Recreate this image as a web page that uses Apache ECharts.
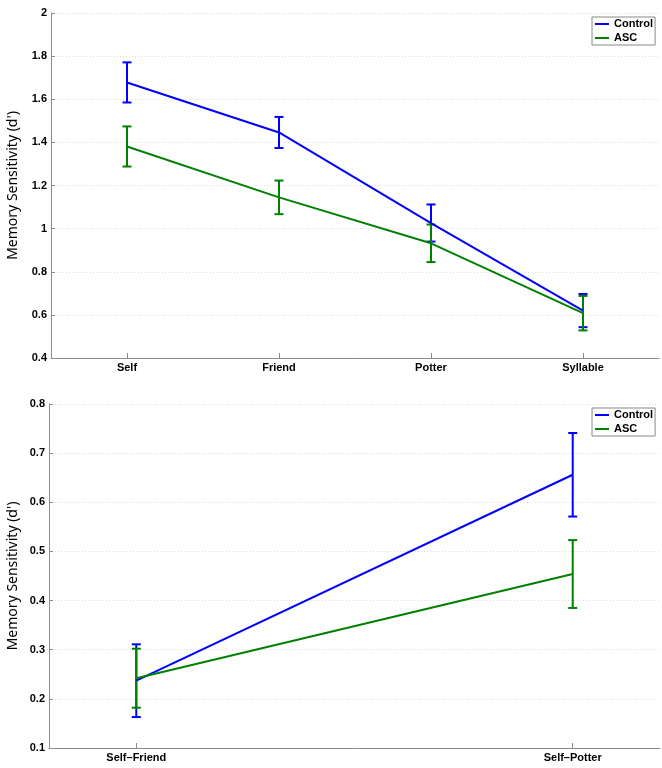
<!DOCTYPE html>
<html><head><meta charset="utf-8">
<script src="https://cdn.jsdelivr.net/npm/echarts@6/dist/echarts.min.js"></script>
<style>html,body{margin:0;padding:0;background:#fff}#c{width:662px;height:768px}</style>
</head><body><div id="c"></div>
<script>
// ---- data ----
const topCategories = ['Self', 'Friend', 'Potter', 'Syllable'];
const topControlMean = [1.678, 1.446, 1.026, 0.620];
const topControlErr  = [0.093, 0.072, 0.086, 0.077];
const topAscMean     = [1.381, 1.145, 0.932, 0.608];
const topAscErr      = [0.093, 0.078, 0.087, 0.080];

const bottomCategories = ['Self–Friend', 'Self–Potter'];
const bottomControlMean = [0.237, 0.656];
const bottomControlErr  = [0.074, 0.085];
const bottomAscMean     = [0.242, 0.454];
const bottomAscErr      = [0.060, 0.069];

const seriesNames = ['Control', 'ASC'];
const yAxisTitle = "Memory Sensitivity (d')";

// ---- style ----
const BLUE = '#0000ff', GREEN = '#008000';
const AXIS = '#8c8c8c';
const tickFont = {fontFamily: 'Liberation Sans, Arial, sans-serif', fontWeight: 'bold', fontSize: 11, color: '#000'};

function errData(xs, mean, err) {
  return mean.map((m, i) => [xs[i], m - err[i], m + err[i]]);
}
function errorBars(color, data, idx) {
  return {
    type: 'custom', name: 'eb', xAxisIndex: idx, yAxisIndex: idx,
    silent: true, itemStyle: {color},
    encode: {x: 0, y: [1, 2]},
    renderItem(params, api) {
      const x = api.value(0), lo = api.value(1), hi = api.value(2);
      const a = api.coord([x, lo]), b = api.coord([x, hi]);
      const hw = 4.5;
      const style = {stroke: color, lineWidth: 2, fill: null};
      return {type: 'group', children: [
        {type: 'line', shape: {x1: a[0], y1: a[1], x2: b[0], y2: b[1]}, style},
        {type: 'line', shape: {x1: a[0] - hw, y1: a[1], x2: a[0] + hw, y2: a[1]}, style},
        {type: 'line', shape: {x1: b[0] - hw, y1: b[1], x2: b[0] + hw, y2: b[1]}, style}
      ]};
    },
    data
  };
}
function lineSeries(name, color, data, idx) {
  return {type: 'line', name, xAxisIndex: idx, yAxisIndex: idx, data,
    symbol: 'none', lineStyle: {color, width: 2}, itemStyle: {color}, color};
}
function legendAt(top) {
  return {left: 592, top, orient: 'vertical', data: seriesNames,
    borderColor: '#888', borderWidth: 1, padding: [1, 2, 1, 3], itemGap: 2,
    icon: 'rect', itemWidth: 14, itemHeight: 2,
    textStyle: Object.assign({}, tickFont, {lineHeight: 12})};
}
function yAx(idx, min, max, step, gap) {
  return {type: 'value', gridIndex: idx, min, max, interval: step,
    name: yAxisTitle, nameLocation: 'middle', nameGap: gap, nameRotate: 90,
    nameMoveOverlap: false,
    nameTextStyle: {fontFamily: 'Noto Sans, sans-serif', fontSize: 14, color: '#000'},
    axisLine: {show: true, lineStyle: {color: AXIS, width: 1}},
    axisTick: {show: true, inside: true, length: 4, lineStyle: {color: AXIS}},
    axisLabel: Object.assign({margin: 4}, tickFont),
    splitLine: {show: true, lineStyle: {color: '#dcdcdc', type: [1, 2], width: 1}}};
}

const topIdx = topCategories.map((c, i) => i);
const bottomX = [1, 2];

const option = {
  animation: false,
  backgroundColor: '#fff',
  grid: [
    {left: 51, right: 3, top: 13, height: 345, containLabel: false, outerBoundsMode: 'none'},
    {left: 49, right: 2, top: 404, height: 344, containLabel: false, outerBoundsMode: 'none'}
  ],
  legend: [legendAt(17), legendAt(408)],
  xAxis: [
    {type: 'category', gridIndex: 0, data: topCategories, boundaryGap: true,
      axisLine: {show: true, lineStyle: {color: AXIS}},
      axisTick: {show: true, inside: true, length: 5, alignWithLabel: true, lineStyle: {color: AXIS}},
      axisLabel: Object.assign({margin: 4}, tickFont),
      splitLine: {show: false}},
    {type: 'value', gridIndex: 1, min: 0.8, max: 2.2,
      axisLine: {show: true, lineStyle: {color: AXIS}},
      axisTick: {show: true, inside: true, length: 5, customValues: bottomX, lineStyle: {color: AXIS}},
      axisLabel: Object.assign({margin: 4, customValues: bottomX,
        formatter: v => bottomCategories[Math.round(v) - 1] || ''}, tickFont),
      splitLine: {show: false}}
  ],
  yAxis: [yAx(0, 0.4, 2, 0.2, 31), yAx(1, 0.1, 0.8, 0.1, 29)],
  series: [
    lineSeries(seriesNames[0], BLUE, topControlMean, 0),
    errorBars(BLUE, errData(topIdx, topControlMean, topControlErr), 0),
    lineSeries(seriesNames[1], GREEN, topAscMean, 0),
    errorBars(GREEN, errData(topIdx, topAscMean, topAscErr), 0),
    lineSeries(seriesNames[0], BLUE, bottomControlMean.map((m, i) => [bottomX[i], m]), 1),
    errorBars(BLUE, errData(bottomX, bottomControlMean, bottomControlErr), 1),
    lineSeries(seriesNames[1], GREEN, bottomAscMean.map((m, i) => [bottomX[i], m]), 1),
    errorBars(GREEN, errData(bottomX, bottomAscMean, bottomAscErr), 1)
  ]
};
const chart = echarts.init(document.getElementById('c'), null, {renderer: 'canvas'});
chart.setOption(option);
</script></body></html>
